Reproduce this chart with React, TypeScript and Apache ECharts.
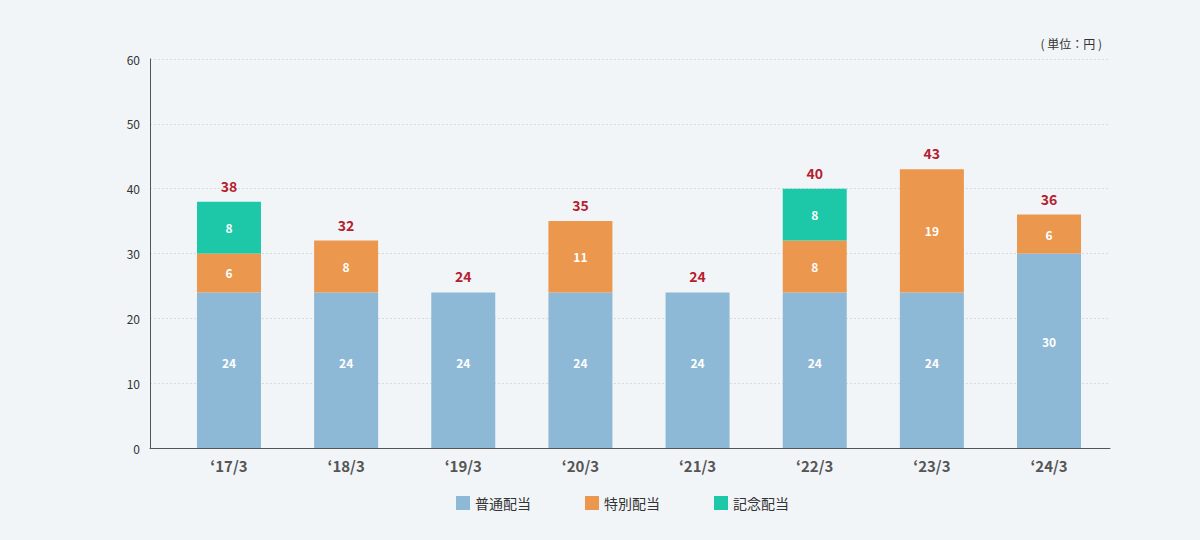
import React, { useEffect, useRef } from "react";
import * as echarts from "echarts";

const categories = ["‘17/3", "‘18/3", "‘19/3", "‘20/3", "‘21/3", "‘22/3", "‘23/3", "‘24/3"];
const ordinary = [24, 24, 24, 24, 24, 24, 24, 30];
const special = [6, 8, 0, 11, 0, 8, 19, 6];
const commemorative = [8, 0, 0, 0, 0, 8, 0, 0];
const totals = [38, 32, 24, 35, 24, 40, 43, 36];
const seriesNames = ["普通配当", "特別配当", "記念配当"];
const yTicks = { min: 0, max: 60, interval: 10 };

const FONT = "'Noto Sans CJK JP', 'Noto Sans', sans-serif";
const colors = ["#8db9d6", "#eb974d", "#1cc8a8"];

export default function App() {
  const ref = useRef<HTMLDivElement>(null);
  useEffect(() => {
    document.body.style.margin = "0";
    const chart = echarts.init(ref.current!, undefined, { renderer: "svg" });
    const inside: any = {
      show: true,
      position: "inside",
      color: "#ffffff",
      fontSize: 12,
      fontWeight: "bold",
      fontFamily: FONT,
      formatter: (p: any) => (p.value ? String(p.value) : ""),
    };
    const insideBase: any = {
      ...inside,
      position: ["50%", "45%"],
      align: "center",
      verticalAlign: "middle",
    };
    const grid0 = { left: 150, right: 90, top: 59, bottom: 92 };
    const grid1 = { left: 170.4, right: 92.4, top: 59, bottom: 92 };
    chart.setOption({
      animation: false,
      backgroundColor: "#f2f5f8",
      textStyle: { fontFamily: FONT },
      grid: [grid0, grid1],
      legend: {
        data: seriesNames,
        bottom: 25,
        left: 451,
        itemWidth: 14,
        itemHeight: 14,
        itemGap: 54,
        icon: "rect",
        textStyle: { fontSize: 14, color: "#333", fontFamily: FONT },
      },
      graphic: [
        {
          type: "text",
          right: 98,
          top: 37,
          style: { text: "( 単位：円 )", fontSize: 12, fill: "#333", fontFamily: FONT },
        },
      ],
      xAxis: [
        {
          type: "category",
          gridIndex: 0,
          data: categories,
          axisLine: { show: true, lineStyle: { color: "#555", width: 1 } },
          axisTick: { show: false },
          axisLabel: { show: false },
        },
        {
          type: "category",
          gridIndex: 1,
          data: categories,
          axisLine: { show: false },
          axisTick: { show: false },
          axisLabel: { fontSize: 15, color: "#555", fontWeight: "bold", margin: 10, fontFamily: FONT },
        },
      ],
      yAxis: [
        {
          type: "value",
          gridIndex: 0,
          min: yTicks.min,
          max: yTicks.max,
          interval: yTicks.interval,
          axisLine: { show: true, lineStyle: { color: "#555", width: 1 } },
          axisTick: { show: false },
          axisLabel: { fontSize: 12, color: "#333", margin: 10, fontFamily: FONT },
          splitLine: { show: true, lineStyle: { color: "#d6dbe0", type: [2, 2], width: 1 } },
        },
        {
          type: "value",
          gridIndex: 1,
          min: yTicks.min,
          max: yTicks.max,
          interval: yTicks.interval,
          show: false,
          splitLine: { show: false },
        },
      ],
      series: [
        {
          name: seriesNames[0],
          type: "bar",
          stack: "d",
          xAxisIndex: 1,
          yAxisIndex: 1,
          barWidth: 64,
          data: ordinary,
          itemStyle: { color: colors[0] },
          label: insideBase,
          z: 3,
        },
        {
          name: seriesNames[1],
          type: "bar",
          stack: "d",
          xAxisIndex: 1,
          yAxisIndex: 1,
          barWidth: 64,
          data: special,
          itemStyle: { color: colors[1] },
          label: inside,
          z: 3,
        },
        {
          name: seriesNames[2],
          type: "bar",
          stack: "d",
          xAxisIndex: 1,
          yAxisIndex: 1,
          barWidth: 64,
          data: commemorative,
          itemStyle: { color: colors[2] },
          label: inside,
          z: 3,
        },
        {
          name: "合計",
          type: "bar",
          xAxisIndex: 1,
          yAxisIndex: 1,
          barWidth: 64,
          barGap: "-100%",
          data: totals,
          itemStyle: { color: "rgba(0,0,0,0)" },
          label: {
            show: true,
            position: "top",
            distance: 9,
            color: "#b5202e",
            fontSize: 14,
            fontWeight: "bold",
            fontFamily: FONT,
          },
          silent: true,
          z: 1,
        },
      ],
    });
    return () => chart.dispose();
  }, []);
  return (
    <div
      ref={ref}
      style={{ position: "absolute", left: 0, top: 0, width: 1200, height: 540 }}
    />
  );
}
